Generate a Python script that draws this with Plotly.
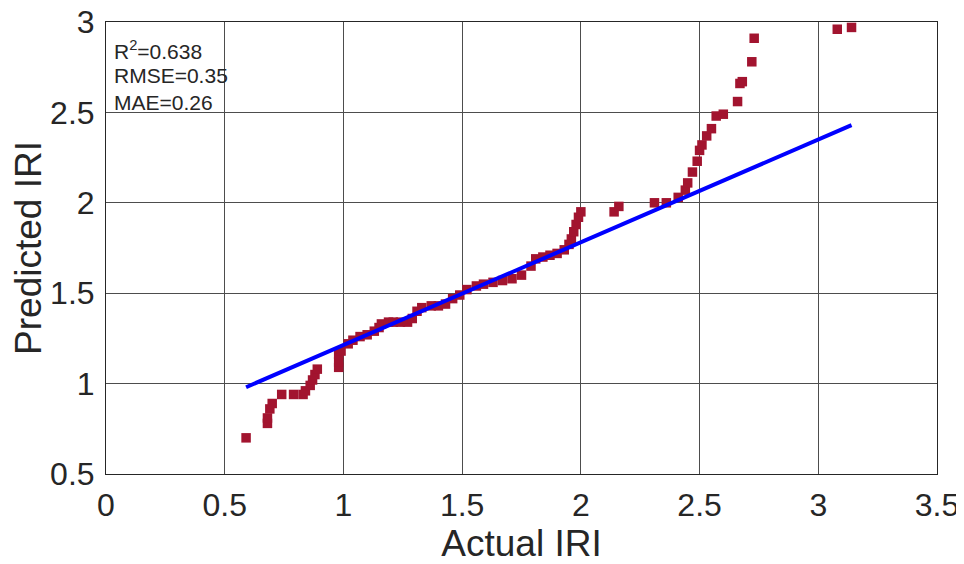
import plotly.graph_objects as go

actual = [0.59, 0.68, 0.68, 0.69, 0.70, 0.74, 0.79, 0.83, 0.84, 0.86, 0.87, 0.88, 0.89,
          0.98, 0.98, 0.98, 0.99, 1.02, 1.04, 1.07, 1.10, 1.13, 1.15, 1.16, 1.19, 1.21,
          1.24, 1.27, 1.29, 1.31, 1.33, 1.37, 1.40, 1.43, 1.46, 1.49, 1.52, 1.56, 1.59,
          1.63, 1.67, 1.71, 1.75, 1.79, 1.81, 1.84, 1.87, 1.90, 1.93, 1.95, 1.96, 1.97,
          1.98, 1.99, 2.00, 2.14, 2.16, 2.31, 2.36, 2.41, 2.44, 2.45, 2.47, 2.49, 2.50,
          2.51, 2.53, 2.55, 2.57, 2.60, 2.66, 2.67, 2.68, 2.72, 2.73, 3.08, 3.14]
predicted = [0.70, 0.78, 0.81, 0.86, 0.89, 0.94, 0.94, 0.94, 0.96, 0.99, 1.02, 1.05, 1.08,
             1.09, 1.12, 1.16, 1.18, 1.22, 1.24, 1.26, 1.27, 1.29, 1.31, 1.33, 1.34, 1.34,
             1.34, 1.34, 1.36, 1.40, 1.42, 1.43, 1.43, 1.44, 1.47, 1.49, 1.52, 1.54, 1.55,
             1.56, 1.57, 1.58, 1.60, 1.65, 1.69, 1.70, 1.71, 1.72, 1.74, 1.77, 1.80, 1.84,
             1.88, 1.92, 1.95, 1.95, 1.98, 2.00, 2.00, 2.03, 2.07, 2.11, 2.17, 2.23, 2.29,
             2.32, 2.37, 2.41, 2.48, 2.49, 2.56, 2.66, 2.67, 2.78, 2.91, 2.96, 2.97]

fit_x = [0.59, 3.14]
fit_y = [0.98, 2.43]

stats_lines = ["R<sup>2</sup>=0.638", "RMSE=0.35", "MAE=0.26"]

x_ticks = [0, 0.5, 1, 1.5, 2, 2.5, 3, 3.5]
y_ticks = [0.5, 1, 1.5, 2, 2.5, 3]

# page body adds an 8px offset; the figure is sized to fit the 964x564 window
W, H = 956, 556
ML, MR, MT, MB = 98, 27, 14, 90

fig = go.Figure()
fig.add_trace(go.Scatter(x=actual, y=predicted, mode="markers",
                         marker=dict(symbol="square", size=9.5, color="#A2142F",
                                     line=dict(width=0))))
fig.add_trace(go.Scatter(x=fit_x, y=fit_y, mode="lines",
                         line=dict(color="#0000FF", width=4)))

font_family = "Liberation Sans, Arial, sans-serif"
axis_common = dict(showgrid=True, gridcolor="#4d4d4d", gridwidth=1, automargin=False,
                   showline=True, linecolor="#262626", linewidth=1, mirror=True,
                   zeroline=False, ticks="outside", tickcolor="rgba(0,0,0,0)",
                   ticklabeloverflow="allow",
                   tickfont=dict(size=32, color="#262626", family=font_family))

fig.update_layout(
    width=W, height=H,
    margin=dict(l=ML, r=MR, t=MT, b=MB),
    paper_bgcolor="white", plot_bgcolor="white",
    showlegend=False,
    font=dict(family=font_family, color="#262626"),
    xaxis=dict(range=[0, 3.5], tickvals=x_ticks, ticklen=3,
               title=dict(text="Actual IRI", font=dict(size=37, color="#262626"), standoff=4),
               **axis_common),
    yaxis=dict(range=[0.5, 3], tickvals=y_ticks, ticklen=4,
               title=dict(text="Predicted IRI", font=dict(size=37, color="#262626"), standoff=0),
               **axis_common),
)

y_pos = [50, 76, 102]
for txt, yp in zip(stats_lines, y_pos):
    fig.add_annotation(text=txt, xref="paper", yref="paper",
                       x=(112 - 106) / (W - ML - MR), xanchor="left",
                       y=1 - (yp - 22) / (H - MT - MB), yanchor="middle",
                       showarrow=False, font=dict(size=21, color="#262626", family=font_family))

fig.write_html("out.html")
